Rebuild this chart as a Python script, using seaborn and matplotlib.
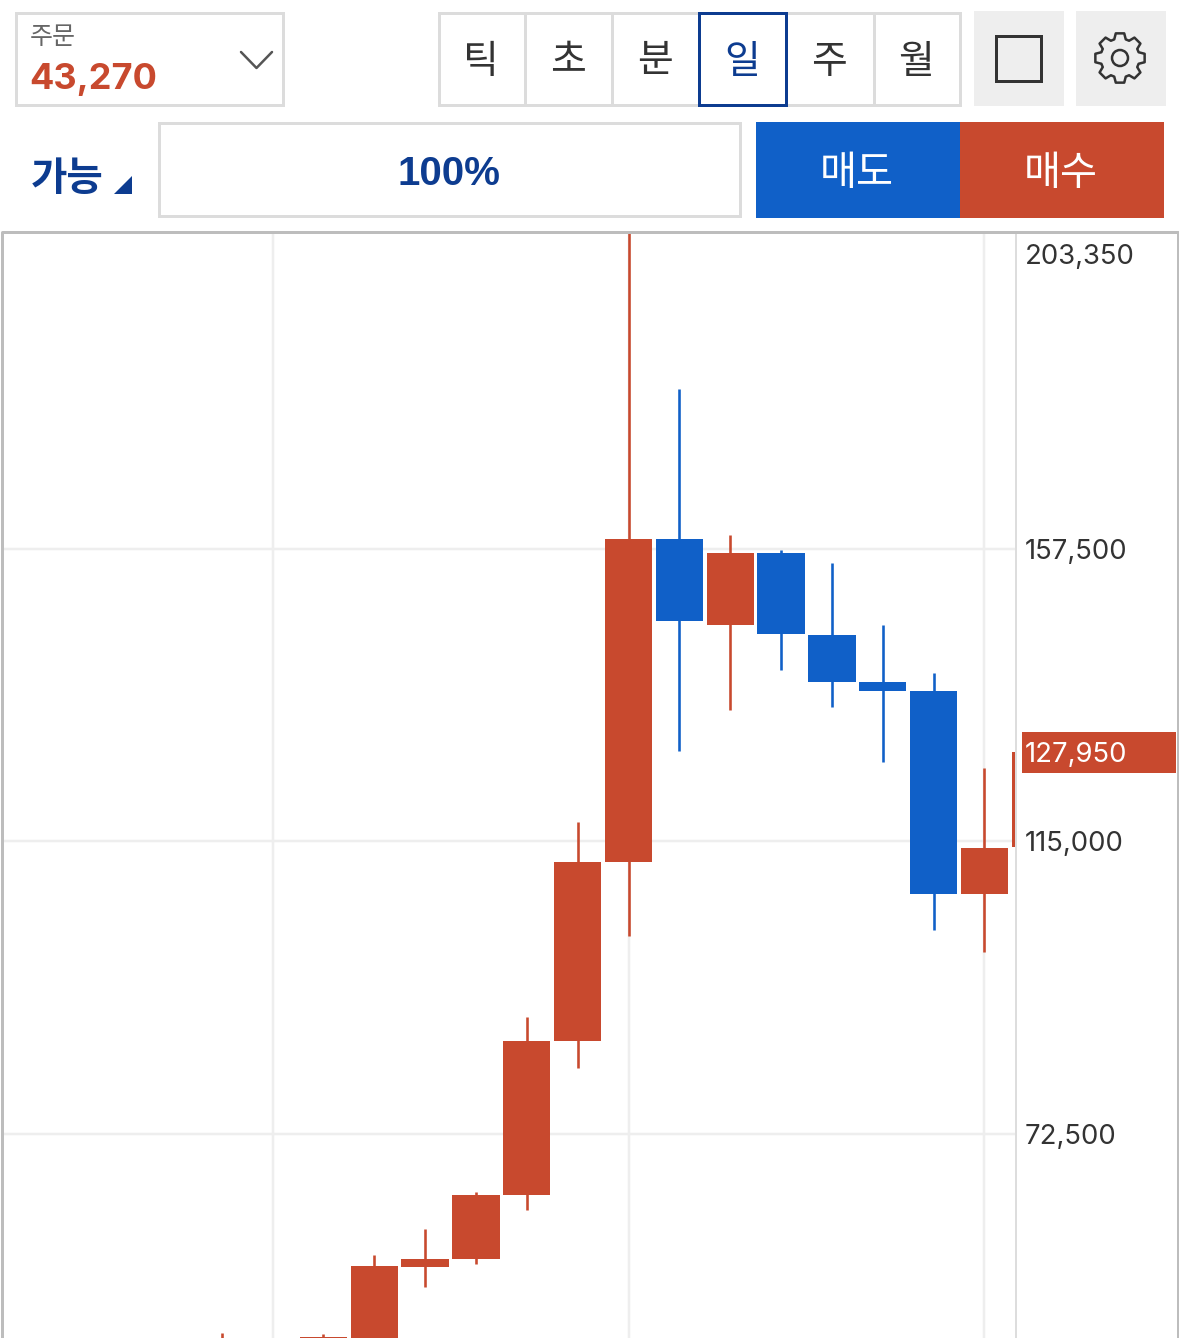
import numpy as np
import pandas as pd
import seaborn as sns
import matplotlib.pyplot as plt
from matplotlib.patches import Rectangle, Polygon, Circle

RED = "#c8492e"
BLUE = "#1060c8"
NAVY = "#0d3c90"
BORDER = "#dcdcdc"
PX = 72 / 100  # 1 pixel em pontos

# candles: indice 0 = o candle mais alto
days = [-8, -6, -5, -4, -3, -2, -1, 0, 1, 2, 3, 4, 5, 6, 7, 8]
opens = [39000, 40000, 42000, 53175, 54340, 63640, 86010, 112020,
         158950, 146460, 156920, 145000, 138180, 136870, 107370, 114200]
closes = [41000, 43000, 53320, 54340, 63640, 86010, 112020, 158950,
          147040, 156920, 145150, 138180, 136870, 107370, 114050, 127950]
highs = [43600, 43440, 54920, 58700, 64070, 89500, 117830, 203350,
         180750, 159530, 157350, 155470, 146460, 139480, 125680, 127950]
lows = [38000, 39000, 41000, 50270, 53610, 61460, 82090, 101270,
        128150, 134110, 139920, 134540, 126550, 102140, 98940, 114200]

price_ticks = [72500, 115000, 157500]
price_labels = ["72,500", "115,000", "157,500"]
top_price = 203350
last_price = 127950
week_ticks = [-7, 0, 7]

tabs = ["틱", "초", "분", "일", "주", "월"]

df = pd.DataFrame({"day": days, "open": opens, "close": closes, "high": highs, "low": lows})
df["color"] = np.where(df["close"] >= df["open"], RED, BLUE)

sns.set_style("white")
plt.rcParams["font.family"] = ["Inter", "Noto Sans CJK KR", "DejaVu Sans"]

W, H = 1179, 1338
fig = plt.figure(figsize=(W / 100, H / 100), dpi=100, facecolor="white")

# area do grafico
left, right, top, bottom = 2, 1016, 233, 1338
ax = fig.add_axes([left / W, 1 - bottom / H, (right - left) / W, (bottom - top) / H])
ax.set_xlim(-12.32, 7.62)
ax.set_ylim(42860, top_price)

ax.vlines(df["day"], df["low"], df["high"], colors=df["color"], lw=2.6 * PX, zorder=3)
ax.bar(df["day"], (df["close"] - df["open"]).abs(), bottom=df[["open", "close"]].min(axis=1),
       width=0.93, color=df["color"], linewidth=0, zorder=4)

ax.set_xticks(week_ticks)
ax.set_xticklabels([])
ax.set_yticks(price_ticks)
ax.set_yticklabels(price_labels)
ax.yaxis.tick_right()
ax.tick_params(axis="both", length=0)
ax.tick_params(axis="y", pad=9 * PX, labelsize=19.8, labelcolor="#333333")
ax.grid(True, color="#eeeeee", lw=2.5 * PX, zorder=0)
ax.set_axisbelow(True)
sns.despine(ax=ax, left=True, top=True, bottom=True, right=True)

# rotulos de preco fora dos ticks
ax.annotate(f"{top_price:,}", xy=(1, top_price), xycoords=("axes fraction", "data"),
            xytext=(9, -24), textcoords="offset pixels", va="center", fontsize=19.8, color="#333333")

# camada da interface em pixels
ui = fig.add_axes([0, 0, 1, 1], zorder=5)
ui.set_xlim(0, W)
ui.set_ylim(H, 0)
ui.axis("off")
ui.patch.set_alpha(0)


def box(x0, y0, x1, y1, edge=BORDER, face="none", lw=3):
    ui.add_patch(Rectangle((x0, y0), x1 - x0, y1 - y0, ec=edge, fc=face, lw=lw * PX))


# preco atual
box(1022, 732, 1176, 773, edge="none", face=RED, lw=0)
ui.text(1025, 755, f"{last_price:,}", color="white", fontsize=19.8, va="center")

# moldura do grafico
ui.plot([1016, 1016], [233, 1338], color="#dddddd", lw=2 * PX)
ui.plot([1.5, 1.5, 1177.5, 1177.5], [1338, 232, 232, 1338], color="#bdbdbd", lw=3 * PX)

# caixa de ordem
box(15.5, 13, 283, 105)
ui.text(30, 38, "주문", color="#666666", fontsize=18, va="center", ha="left")
ui.text(29, 80, "43,270", color=RED, fontsize=26, fontweight="bold", va="center", ha="left")
ui.plot([241, 256.5, 272], [52, 68, 52], color="#555555", lw=2.5 * PX)

# abas
box(438.5, 13, 960, 105)
for xd in [525, 612, 873.5]:
    ui.plot([xd, xd], [13, 105], color=BORDER, lw=3 * PX)
for i, tab in enumerate(tabs):
    ui.text(481 + i * 87, 62, tab, color=NAVY if tab == "일" else "#333333", fontsize=28,
            ha="center", va="center")
box(699, 13, 786, 105, edge=NAVY)

# botoes de icone
box(974, 11, 1064, 106, edge="none", face="#eeeeee", lw=0)
box(1076, 11, 1166, 106, edge="none", face="#eeeeee", lw=0)
box(996, 36, 1041, 81, edge="#333333")
angles, radii = [], []
for k in range(8):
    c = k * np.pi / 4
    angles += [c - 0.30, c - 0.17, c + 0.17, c + 0.30]
    radii += [19.5, 25, 25, 19.5]
gear = np.column_stack([1120 + np.cos(angles) * radii, 58 + np.sin(angles) * np.array(radii)])
ui.add_patch(Polygon(gear, closed=True, fc="none", ec="#333333", lw=2.5 * PX, joinstyle="round"))
ui.add_patch(Circle((1120, 58), 8, fc="none", ec="#333333", lw=2.5 * PX))

# segunda linha
ui.text(31, 180, "가능", color=NAVY, fontsize=28.5, fontweight="bold", ha="left", va="center")
ui.add_patch(Polygon([(114, 194), (132, 194), (132, 176)], closed=True, fc=NAVY, ec="none"))
box(159, 123, 739.5, 216)
ui.text(448.5, 174, "100%", color=NAVY, fontsize=29, fontweight="bold", family="Liberation Sans",
        ha="center", va="center")
box(756, 122, 960, 218, edge="none", face=BLUE, lw=0)
box(960, 122, 1164, 218, edge="none", face=RED, lw=0)
ui.text(857, 174, "매도", color="white", fontsize=29, ha="center", va="center")
ui.text(1061, 174, "매수", color="white", fontsize=29, ha="center", va="center")

fig.savefig("out.png", dpi=100)
